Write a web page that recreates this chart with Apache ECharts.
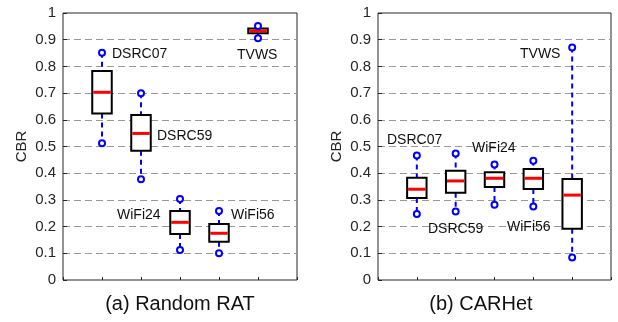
<!DOCTYPE html>
<html>
<head>
<meta charset="utf-8">
<script src="https://cdn.jsdelivr.net/npm/echarts@6/dist/echarts.min.js"></script>
<style>
html,body{margin:0;padding:0;background:#fff;}
#chart{width:618px;height:322px;}
</style>
</head>
<body>
<div id="chart"></div>
<script>
// ---- Data ----
const categories = ['DSRC07', 'DSRC59', 'WiFi24', 'WiFi56', 'TVWS'];
const categoryPos = [1, 2, 3, 4, 5];
const yTicks = [0, 0.1, 0.2, 0.3, 0.4, 0.5, 0.6, 0.7, 0.8, 0.9, 1];

// (a) Random RAT
const randLow  = [0.512, 0.377, 0.112, 0.100, 0.905];
const randQ1   = [0.624, 0.484, 0.172, 0.143, 0.924];
const randMed  = [0.703, 0.549, 0.216, 0.175, 0.933];
const randQ3   = [0.783, 0.618, 0.258, 0.210, 0.942];
const randHigh = [0.851, 0.699, 0.303, 0.258, 0.951];

// (b) CARHet
const carLow  = [0.247, 0.257, 0.282, 0.275, 0.084];
const carQ1   = [0.307, 0.327, 0.348, 0.341, 0.192];
const carMed  = [0.340, 0.371, 0.381, 0.381, 0.318];
const carQ3   = [0.383, 0.409, 0.404, 0.416, 0.378];
const carHigh = [0.466, 0.474, 0.433, 0.447, 0.871];

const captions = ['(a) Random RAT', '(b) CARHet'];
const yName = 'CBR';

// ---- Build ----
function buildData(lo, q1, md, q3, hi) {
  return categoryPos.map((p, i) => [p, lo[i], q1[i], md[i], q3[i], hi[i]]);
}

const BLUE = '#0000ff';
function renderItem(params, api) {
  const x = api.value(0);
  const pLo = api.coord([x, api.value(1)]);
  const pQ1 = api.coord([x, api.value(2)]);
  const pMd = api.coord([x, api.value(3)]);
  const pQ3 = api.coord([x, api.value(4)]);
  const pHi = api.coord([x, api.value(5)]);
  const w = api.size([0.5, 0])[0];
  const cx = pMd[0];
  const left = cx - w / 2;
  const dash = {stroke: BLUE, lineWidth: 2, lineDash: [5, 4]};
  return {
    type: 'group',
    children: [
      {type: 'line', shape: {x1: cx, y1: pHi[1], x2: cx, y2: pQ3[1]}, style: dash},
      {type: 'line', shape: {x1: cx, y1: pQ1[1], x2: cx, y2: pLo[1]}, style: dash},
      {type: 'rect', shape: {x: left, y: pQ3[1], width: w, height: pQ1[1] - pQ3[1]},
        style: {fill: '#fff', stroke: '#000', lineWidth: 2}},
      {type: 'line', shape: {x1: left + 1, y1: pMd[1], x2: left + w - 1, y2: pMd[1]},
        style: {stroke: '#ff0000', lineWidth: 3}},
      {type: 'circle', shape: {cx: cx, cy: pHi[1], r: 3}, style: {fill: '#fff', stroke: BLUE, lineWidth: 2}},
      {type: 'circle', shape: {cx: cx, cy: pLo[1], r: 3}, style: {fill: '#fff', stroke: BLUE, lineWidth: 2}}
    ]
  };
}

const FONT = 'Arial, "Liberation Sans", sans-serif';
const grids = [
  {left: 63, top: 13, width: 234, height: 267},
  {left: 378, top: 13, width: 233, height: 267}
];

function xAxis(gi) {
  return {
    type: 'value', gridIndex: gi, min: 0, max: 6, interval: 1,
    axisLine: {show: false},
    axisTick: {show: true, inside: true, length: 3, lineStyle: {color: '#262626'}},
    axisLabel: {show: false},
    splitLine: {show: false}
  };
}
function yAxis(gi) {
  return {
    type: 'value', gridIndex: gi, min: 0, max: 1, interval: 0.1,
    name: yName, nameLocation: 'middle', nameGap: 34, nameRotate: 90,
    nameTextStyle: {fontFamily: FONT, fontSize: 15, color: '#262626'},
    axisLine: {show: false},
    axisTick: {show: true, inside: true, length: 4, lineStyle: {color: '#262626'}},
    axisLabel: {fontFamily: FONT, fontSize: 15, color: '#262626', margin: 7,
      formatter: v => String(+v.toFixed(1))},
    splitLine: {show: true, showMinLine: false, showMaxLine: false,
      lineStyle: {color: '#999', type: [7, 4], width: 1}}
  };
}

function label(text, x, y) {
  return {type: 'text', z: 100, style: {text: text, x: x, y: y, fill: '#111',
    font: '14px ' + FONT, verticalAlign: 'middle', align: 'left'}};
}

const chart = echarts.init(document.getElementById('chart'));
chart.setOption({
  animation: false,
  backgroundColor: '#fff',
  grid: grids.map(g => Object.assign({show: true, borderColor: '#262626', borderWidth: 1, backgroundColor: 'transparent'}, g)),
  xAxis: [xAxis(0), xAxis(1)],
  yAxis: [yAxis(0), yAxis(1)],
  series: [
    {type: 'custom', xAxisIndex: 0, yAxisIndex: 0, renderItem: renderItem,
      encode: {x: 0, y: [1, 2, 3, 4, 5]}, data: buildData(randLow, randQ1, randMed, randQ3, randHigh), z: 5},
    {type: 'custom', xAxisIndex: 1, yAxisIndex: 1, renderItem: renderItem,
      encode: {x: 0, y: [1, 2, 3, 4, 5]}, data: buildData(carLow, carQ1, carMed, carQ3, carHigh), z: 5}
  ],
  graphic: [
    label(categories[0], 112, 54),
    label(categories[1], 157, 136),
    label(categories[2], 117, 215),
    label(categories[3], 231, 215),
    label(categories[4], 237, 55),
    label(categories[0], 387, 140),
    label(categories[1], 428, 229),
    label(categories[2], 472, 148),
    label(categories[3], 507, 227),
    label(categories[4], 520, 54),
    {type: 'text', style: {text: captions[0], x: 180, y: 304, fill: '#111', font: '20px ' + FONT,
      align: 'center', verticalAlign: 'middle'}},
    {type: 'text', style: {text: captions[1], x: 481, y: 304, fill: '#111', font: '20px ' + FONT,
      align: 'center', verticalAlign: 'middle'}}
  ]
});
</script>
</body>
</html>
